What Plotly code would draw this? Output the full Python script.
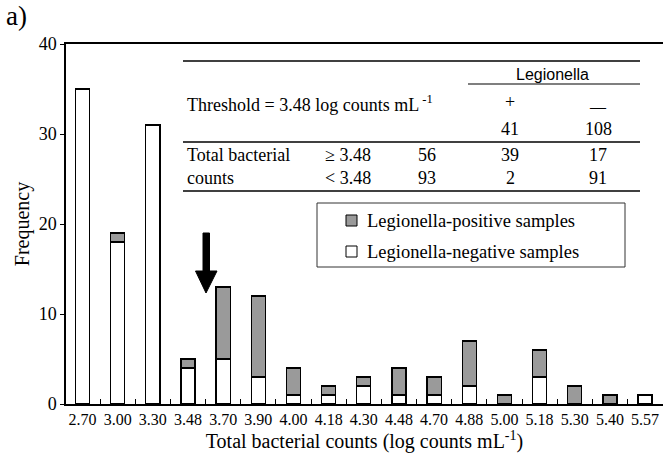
import plotly.graph_objects as go

# ---- data ----
categories = ["2.70", "3.00", "3.30", "3.48", "3.70", "3.90", "4.00", "4.18", "4.30",
              "4.48", "4.70", "4.88", "5.00", "5.18", "5.30", "5.40", "5.57"]
negative = [35, 18, 31, 4, 5, 3, 1, 1, 2, 1, 1, 2, 0, 3, 0, 0, 1]
positive = [0, 1, 0, 1, 8, 9, 3, 1, 1, 3, 2, 5, 1, 3, 2, 1, 0]
y_ticks = [0, 10, 20, 30, 40]

threshold_label = "Threshold = 3.48 log counts mL<sup> -1</sup>"
table_header = ["+", "\u2014"]
table_totals = ["41", "108"]
row_labels = ["Total bacterial", "counts"]
row_conditions = ["\u2265 3.48", "< 3.48"]
row_all = ["56", "93"]
row_pos = ["39", "2"]
row_neg = ["17", "91"]

SERIF = "Liberation Serif"
SANS = "Liberation Sans"
GRAY = "#9a9a9a"

W, H = 663, 455
L, R, T, B = 66, 0, 44, 51
PW, PH = W - L - R, H - T - B


def px(x):
    return (x - L) / PW


def py(y):
    return (H - B - y) / PH


fig = go.Figure()
fig.add_trace(go.Bar(x=categories, y=[v if v else None for v in negative],
                     name="Legionella-negative samples",
                     marker=dict(color="white", line=dict(color="black", width=1.3)),
                     width=0.4, showlegend=False))
fig.add_trace(go.Bar(x=categories, y=[v if v else None for v in positive],
                     name="Legionella-positive samples",
                     marker=dict(color=GRAY, line=dict(color="black", width=1.3)),
                     width=0.4, showlegend=False))

shapes = []
annotations = []

# table lines
for (x0, x1, y, w) in [(183, 640, 61, 1.5), (468, 640, 84, 1.2), (183, 640, 142, 1.5), (183, 640, 191, 1.5)]:
    shapes.append(dict(type="line", xref="paper", yref="paper", x0=px(x0), x1=px(x1),
                       y0=py(y), y1=py(y), line=dict(color="black", width=w)))


def txt(text, x, y, size=18, anchor="center", family=SERIF):
    annotations.append(dict(text=text, x=px(x), y=py(y), xref="paper", yref="paper",
                            showarrow=False, xanchor=anchor, yanchor="middle",
                            font=dict(family=family, size=size, color="black")))


txt("Legionella", 552, 74, size=16, family=SANS)
txt(threshold_label, 185, 103, anchor="left")
txt(table_header[0], 510, 102)
txt(table_header[1], 598, 106, size=16)
txt(table_totals[0], 510, 129)
txt(table_totals[1], 598, 129)
for i, yy in enumerate([155, 178]):
    txt(row_labels[i], 185, yy, anchor="left")
    txt(row_conditions[i], 323, yy, anchor="left")
    txt(row_all[i], 427, yy)
    txt(row_pos[i], 510, yy)
    txt(row_neg[i], 598, yy)

# legend box
shapes.append(dict(type="rect", xref="paper", yref="paper", x0=px(317), x1=px(625),
                   y0=py(267), y1=py(203), line=dict(color="#333", width=1)))
shapes.append(dict(type="rect", xref="paper", yref="paper", x0=px(346), x1=px(357),
                   y0=py(226), y1=py(215), fillcolor=GRAY, line=dict(color="black", width=1)))
shapes.append(dict(type="rect", xref="paper", yref="paper", x0=px(346), x1=px(357),
                   y0=py(257), y1=py(246), fillcolor="white", line=dict(color="black", width=1)))
txt("Legionella-positive samples", 365, 221, size=18.5, anchor="left")
txt("Legionella-negative samples", 365, 252, size=18.5, anchor="left")

# arrow
shapes.append(dict(type="path", xref="paper", yref="paper",
                   path=f"M {px(203)} {py(233)} L {px(209.5)} {py(233)} L {px(209.5)} {py(271)} "
                        f"L {px(217)} {py(271)} L {px(206)} {py(293)} L {px(195.5)} {py(271)} "
                        f"L {px(203)} {py(271)} Z",
                   fillcolor="black", line=dict(color="black", width=1)))

# panel label
annotations.append(dict(text="a)", x=px(4), y=py(16), xref="paper", yref="paper",
                        showarrow=False, xanchor="left", yanchor="middle",
                        font=dict(family=SERIF, size=27, color="black")))

fig.update_layout(
    width=W, height=H,
    margin=dict(l=L, r=R, t=T, b=B),
    paper_bgcolor="white", plot_bgcolor="white",
    barmode="stack",
    shapes=shapes, annotations=annotations,
    font=dict(family=SERIF, color="black"),
    xaxis=dict(type="category", range=[-0.47, 16.51], tickson="boundaries",
               ticks="inside", ticklen=5, tickwidth=1, tickcolor="black",
               showline=True, linecolor="black", linewidth=1.5, mirror=True,
               showgrid=False, zeroline=False, tickangle=0,
               tickfont=dict(family=SERIF, size=16),
               title=dict(text="Total bacterial counts (log counts mL<sup>-1</sup>)",
                          font=dict(family=SERIF, size=20), standoff=4)),
    yaxis=dict(range=[0, 40], tickvals=y_ticks, ticks="outside", ticklen=4,
               tickcolor="black", showline=True, linecolor="black", linewidth=1.5,
               showgrid=False, zeroline=False,
               tickfont=dict(family=SERIF, size=18),
               title=dict(text="Frequency", font=dict(family=SERIF, size=20), standoff=4)),
)

fig.write_html("out.html", config={"displayModeBar": False},
               post_script="document.body.style.margin='0';")
